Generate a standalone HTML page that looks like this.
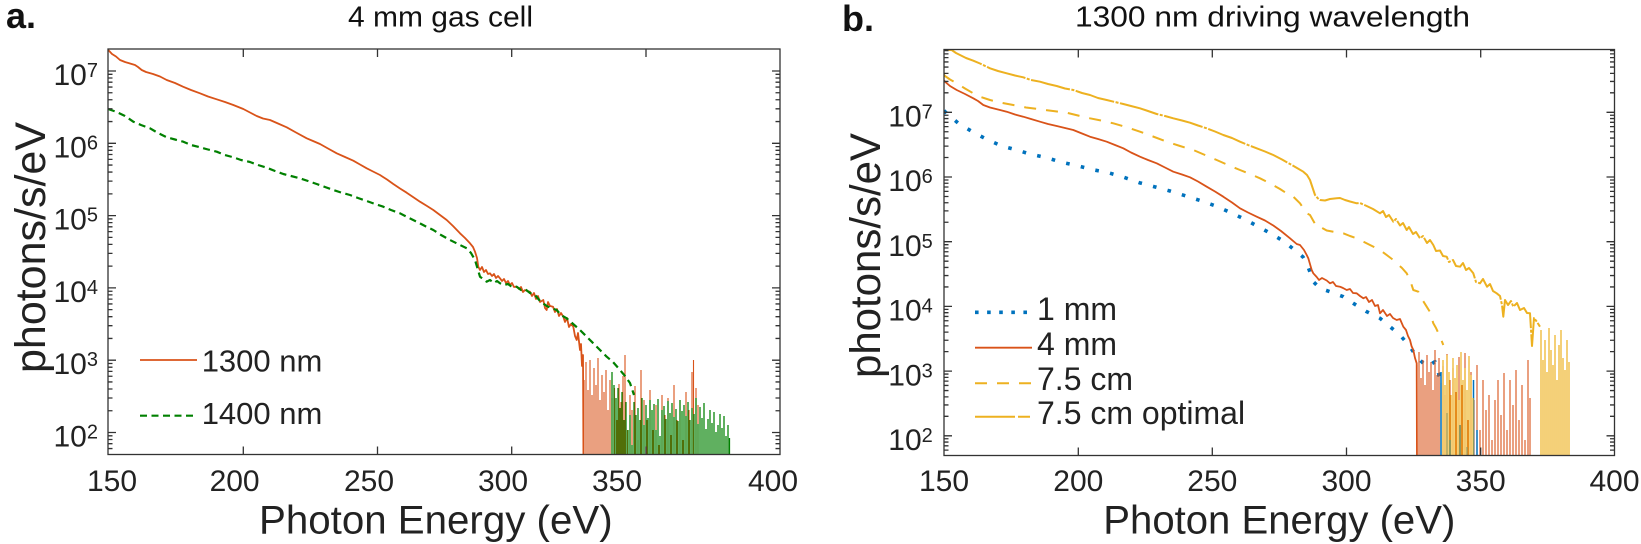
<!DOCTYPE html>
<html>
<head>
<meta charset="utf-8">
<style>
html,body{margin:0;padding:0;background:#fff;}
svg{display:block;}
text{font-family:"Liberation Sans",Arial,sans-serif;fill:#222;}
</style>
</head>
<body>
<svg width="1641" height="544" viewBox="0 0 1641 544" xmlns="http://www.w3.org/2000/svg">
<defs>
<clipPath id="ca"><rect x="108" y="49" width="672" height="405.5"/></clipPath>
<clipPath id="cb"><rect x="944" y="49.5" width="670.5" height="406"/></clipPath>
<path id="tka" fill="none" d="M0,71h8M0,143.3h8M0,215.6h8M0,287.9h8M0,360.2h8M0,432.5h8
M0,448.55h4.5M0,443.71h4.5M0,439.51h4.5M0,435.83h4.5
M0,410.74h4.5M0,398.01h4.5M0,388.97h4.5M0,381.96h4.5M0,376.25h4.5M0,371.41h4.5M0,367.21h4.5M0,363.53h4.5
M0,338.44h4.5M0,325.71h4.5M0,316.67h4.5M0,309.66h4.5M0,303.95h4.5M0,299.11h4.5M0,294.91h4.5M0,291.23h4.5
M0,266.14h4.5M0,253.41h4.5M0,244.37h4.5M0,237.36h4.5M0,231.65h4.5M0,226.81h4.5M0,222.61h4.5M0,218.93h4.5
M0,193.84h4.5M0,181.11h4.5M0,172.07h4.5M0,165.06h4.5M0,159.35h4.5M0,154.51h4.5M0,150.31h4.5M0,146.63h4.5
M0,121.54h4.5M0,108.81h4.5M0,99.77h4.5M0,92.76h4.5M0,87.05h4.5M0,82.21h4.5M0,78.01h4.5M0,74.33h4.5"/>
<path id="tkb" fill="none" d="M0,112.3h8M0,177h8M0,241.7h8M0,306.4h8M0,371.1h8M0,435.8h8
M0,450.16h4.5M0,445.83h4.5M0,442.08h4.5M0,438.78h4.5
M0,416.33h4.5M0,404.94h4.5M0,396.85h4.5M0,390.58h4.5M0,385.46h4.5M0,381.13h4.5M0,377.38h4.5M0,374.08h4.5
M0,351.63h4.5M0,340.24h4.5M0,332.15h4.5M0,325.88h4.5M0,320.76h4.5M0,316.43h4.5M0,312.68h4.5M0,309.38h4.5
M0,286.93h4.5M0,275.54h4.5M0,267.45h4.5M0,261.18h4.5M0,256.06h4.5M0,251.73h4.5M0,247.98h4.5M0,244.68h4.5
M0,222.23h4.5M0,210.84h4.5M0,202.75h4.5M0,196.48h4.5M0,191.36h4.5M0,187.03h4.5M0,183.28h4.5M0,179.98h4.5
M0,157.53h4.5M0,146.14h4.5M0,138.05h4.5M0,131.78h4.5M0,126.66h4.5M0,122.33h4.5M0,118.58h4.5M0,115.28h4.5
M0,92.83h4.5M0,81.44h4.5M0,73.35h4.5M0,67.08h4.5M0,61.96h4.5M0,57.63h4.5M0,53.88h4.5M0,50.58h4.5"/>
</defs>

<!-- ================= PANEL A ================= -->
<text x="6" y="28" font-size="36" font-weight="bold" style="fill:#111">a.</text>
<text x="348" y="26.7" font-size="29" textLength="185" lengthAdjust="spacingAndGlyphs" style="fill:#111">4 mm gas cell</text>

<g clip-path="url(#ca)" fill="none" stroke-linejoin="round">
<polyline stroke="#D95319" stroke-width="1.8" points="108.3,50 112,54 116,56.5 120,60 125,62 130,63.5 135,65 138,67 141.7,70 146,72 153,74 160,76.5 166.7,80 175,83 183,86.7 191,90 200,93.3 208,96.5 216.7,99.3 225,102 233.3,105 243.3,109 250,112.5 256.7,116 263,118.5 270,120 278,123.5 286.7,127.3 296,132.5 306.7,138.3 313,141 320,144 328,148.5 336.7,153.3 345,157 353.3,160.7 360,164.5 366.7,168.3 373,171.5 380,175 387,179.5 393.3,184 400,188.5 406.7,192.7 413,197 420,201.7 427,206 433.3,210 440,215 446.7,220 453,226 460,233.3 465,238 470,243.3 473,247 475,251.7 477,258 478.3,266.7 480,270 482,267 484,272 486,270 488,274 490,273.3 492,276 494,274 496,278 498,276 500,278.3 502,281 504,279 506,283 508,281 510,285 512,283 514,287 516.7,286.7 519,289 521,287 523,292 525,290 527,291 530,291.7 532,296 534,293 536,299 538,296 540,302 543.3,300 545,308 546.7,310 548,302 550,306 553,306.7 555,312 557,309 559,316 561,313 563.3,316.7 565,322 567,318 569,327 571,324 573.3,326.7 575,336 576.7,340 578,333 580,350 581,344 582,366 583,355 583.5,470"/>
<path stroke="#D95319" stroke-width="1.1" d="M584,470V380M586,470V362M588,470V390M590,470V360M592,470V395M594,470V368M596,470V385M598,470V358M600,470V400M602,470V375M604,470V392M606,470V370M608,470V410M610,470V380M612,470V398M614.5,470V388M617,470V420M619,470V384M621,470V402M623,470V376M625,470V355M627.5,470V430M630,470V395M632,470V410M635,470V386M638,470V440M641,470V370M644,470V400M647,470V420M650,470V390M653,470V430M656,470V405M659,470V445M662,470V395M665,470V415M668,470V398M671,470V435M674,470V385M677,470V420M680,470V400M683,470V440M686,470V392M689,470V410M692,470V372M693.5,470V360M696,470V388M698,470V405"/>
<polyline stroke="#008000" stroke-width="2.2" stroke-dasharray="7 4.5" points="108,109 116,111.7 125,116 133.3,121.7 141,125 150,128.3 158,133 166.7,137.3 175,139.5 183.3,141.7 191,145 200,147.3 208,149.5 216.7,151.7 225,155 233.3,157.3 241,160 250,162 258,165 266.7,167.7 275,171 283.3,174 291,176 300,178.3 308,181 316.7,184 325,187 333.3,190 341,192.5 350,195 358,198 366.7,201 375,204 383.3,206.7 391,210 400,213.3 408,217.5 416.7,221.7 425,226 433.3,230 441,235 450,240 458,244 466.7,248.3 471,253 475,260 478,270 480,276.7 483,279 486.7,281.7 490,280 494,283 497,281 500,283.3 504,285 508,284 512,287 516.7,286.7 521,290 525,289 530,293 535,295 540,301 546.7,306 551,308 556.7,310 561,315 566.7,318.3 572,323 580,330 586,336 593.3,343.3 600,350 606.7,356.7 613,362 620,370 625,376 630,383 634,395"/>
<path stroke="#008000" stroke-width="1.25" d="M612,470V372M614,470V385M616,470V398M618,470V388M620,470V408M622,470V392M624,470V420M626,470V402M628,470V430M630,470V415M632,470V445M634,470V402M636,470V415M638,470V408M640,470V420M642,470V398M644,470V425M646,470V405M648,470V418M650,470V400M652,470V410M654,470V404M656,470V430M658,470V399M660,470V436M662,470V410M664,470V406M666,470V419M668,470V401M670,470V413M672,470V403M674,470V417M676,470V409M678,470V421M680,470V400M682,470V411M684,470V405M686,470V416M688,470V402M690,470V420M692,470V408M694,470V414M696,470V398M698,470V424M700,470V407M702,470V418M704,470V403M706,470V429M708,470V419M710,470V410M712,470V423M714,470V412M716,470V432M718,470V425M720,470V414M722,470V428M724,470V416M726,470V436M728,470V425M729.5,470V438"/>
</g>

<g stroke="#333" stroke-width="1.3" fill="none">
<rect x="108" y="49" width="672" height="405.5"/>
<path d="M243.3,454.5v-8M377.5,454.5v-8M511.7,454.5v-8M646,454.5v-8M243.3,49v8M377.5,49v8M511.7,49v8M646,49v8"/>
<use href="#tka" x="108"/>
<use href="#tka" transform="translate(780,0) scale(-1,1)"/>
</g>
<g font-size="30">
<text x="112" y="491" text-anchor="middle">150</text>
<text x="234.6" y="491" text-anchor="middle">200</text>
<text x="369" y="491" text-anchor="middle">250</text>
<text x="503" y="491" text-anchor="middle">300</text>
<text x="617" y="491" text-anchor="middle">350</text>
<text x="773" y="491" text-anchor="middle">400</text>
<text x="53.5" y="85">10<tspan font-size="20" dy="-8">7</tspan></text>
<text x="53.5" y="157.3">10<tspan font-size="20" dy="-8">6</tspan></text>
<text x="53.5" y="229.6">10<tspan font-size="20" dy="-8">5</tspan></text>
<text x="53.5" y="301.9">10<tspan font-size="20" dy="-8">4</tspan></text>
<text x="53.5" y="374.2">10<tspan font-size="20" dy="-8">3</tspan></text>
<text x="53.5" y="446.5">10<tspan font-size="20" dy="-8">2</tspan></text>
</g>
<text x="259" y="533.3" font-size="40" textLength="353.6" lengthAdjust="spacingAndGlyphs">Photon Energy (eV)</text>
<text transform="translate(45,373) rotate(-90)" font-size="43" textLength="251" lengthAdjust="spacingAndGlyphs">photons/s/eV</text>

<path d="M140,360H197" stroke="#D95319" stroke-width="1.8"/>
<path d="M140,415.7H197" stroke="#008000" stroke-width="2.2" stroke-dasharray="7 4.5"/>
<text x="201.7" y="371.7" font-size="31">1300 nm</text>
<text x="201.7" y="424" font-size="31">1400 nm</text>

<!-- ================= PANEL B ================= -->
<text x="842" y="31" font-size="36" font-weight="bold" style="fill:#111">b.</text>
<text x="1075" y="26.7" font-size="29" textLength="395" lengthAdjust="spacingAndGlyphs" style="fill:#111">1300 nm driving wavelength</text>

<g clip-path="url(#cb)" fill="none" stroke-linejoin="round">
<polyline stroke="#0072BD" stroke-width="3.6" stroke-dasharray="3.6 11.4" points="944,110.5 945,111.7 958.3,123.3 972.3,131.7 986.7,139.3 1001.7,146 1016.7,150 1030.7,154.3 1046.7,157.7 1061.7,162.3 1077.3,165.7 1092.7,169.7 1108.3,172.7 1124,177.3 1139.3,182.7 1154.3,186.7 1170,191 1185,195.7 1200.7,200.7 1215.7,206 1230,212.3 1245,219.3 1258.3,226.7 1271.7,234 1284.3,241.7 1296.7,251.7 1303,257 1306.7,263.3 1310,272 1313.3,281.7 1320,288.3 1330,291.7 1343.3,296.7 1353.3,303.3 1366.7,311.7 1380,318.3 1390,326.7 1400,335 1410,346.7 1416.7,356.7 1426.7,366.7 1435,361.7 1440,378"/>
<polyline stroke="#D95319" stroke-width="1.8" points="944,80.5 945,81.7 950,86 956.7,90 965,94 973.3,98.3 978,101 983.3,105 990,107.5 1000,110 1006.7,111.7 1015,114.5 1023.3,116.7 1031,119 1040,121.7 1048,124 1056.7,126 1065,128 1073.3,130 1082,133.5 1090,136.7 1098,139 1106.7,141.7 1115,145 1123.3,148.3 1131,152.5 1140,156.7 1148,160 1156.7,163.3 1165,167.5 1173.3,171.7 1182,174.5 1190,177.3 1198,181.5 1206.7,186.7 1215,191.5 1223.3,196.7 1232,202.5 1240,208.3 1248,212.5 1256.7,216.7 1265,220.5 1273.3,225.5 1281,231 1290,238.3 1296.7,244 1300,245 1304,250 1306.7,255 1308.3,258.3 1311.7,270 1313.3,273.3 1316.7,277 1319,280 1322,278 1326.7,280.5 1330,283.3 1333,282 1336,286 1340,286.7 1343,288 1346.7,290 1350,289 1353,293 1356.7,293.3 1360,296 1363.3,298.3 1366,297 1369,302 1372,300 1375,306 1378,305 1380,313.3 1383,310 1387,316 1390,314 1393,318 1396.7,320 1400,319 1403.3,326.7 1406,330 1408,336 1410,340 1411.5,346 1413.3,350 1415,358 1416.7,363.3 1417,470"/>
<path stroke="#D95319" stroke-width="1.1" d="M1417,470V365M1419,470V352M1421,470V378M1423,470V360M1425,470V385M1427,470V355M1429,470V372M1431,470V362M1433,470V390M1435,470V350M1437,470V375M1439,470V358M1441,470V383M1443,470V366M1445,470V395M1447,470V354M1450,470V380M1453,470V368M1456,470V392M1459,470V357M1462,470V385M1465,470V353M1468,470V420M1471,470V372M1474,470V400M1477,470V365M1480,470V430M1483,470V380M1486,470V410M1489,470V395M1492,470V440M1495,470V400M1498,470V380M1501,470V415M1504,470V373M1507,470V430M1510,470V380M1513,470V405M1516,470V370M1519,470V420M1522,470V385M1525,470V440M1528,470V360M1530,470V398"/>
<path stroke="#0072BD" stroke-width="1.5" d="M1441,470V372M1447,470V413M1450,470V440M1460,470V425M1467,470V447M1473.5,470V380M1477,470V430"/>
<polyline stroke="#EDB120" stroke-width="2" stroke-dasharray="12 10" points="944,74.5 945,76 950,79.5 956.7,83.3 965,88.5 973.3,93.3 981,97 990,100 1000,102.5 1013.3,105 1026,107.5 1040,109.3 1053,111 1066.7,112.7 1078,115.5 1090,118.3 1101,120.5 1113.3,123.3 1126,127 1140,131.7 1153,136.5 1166.7,141.7 1180,146 1193.3,150 1205,155 1216.7,160 1228,165 1240,170 1250,174 1260,178.3 1270,183.3 1280,189 1286.7,193.3 1293.3,196.7 1300,203.3 1306.7,213.3 1310,215 1316.7,226.7 1320,226.7 1326.7,230.5 1335,232 1343.3,233.3 1350,236 1356.7,238.3 1360,240 1370,245 1380,250 1388,256 1393.3,260 1396.7,263.3 1402,268 1406.7,273.3 1410,280 1413.3,290 1418.3,291.7 1420,296 1426.7,306.7 1430,312 1433.3,323.3 1436,328 1440,336.7 1443.3,345"/>
<path stroke="#EDB120" stroke-width="1.2" d="M1443,470V360M1445,470V385M1447,470V355M1449,470V372M1451,470V395M1453,470V358M1455,470V378M1457,470V365M1459,470V400M1461,470V352M1463,470V380M1465,470V368M1467,470V390M1469,470V356M1471,470V375M1473,470V398"/>
<polyline stroke="#EDB120" stroke-width="2" stroke-dasharray="40 1.5 3 1.5" points="945,50 951.7,50 956,53 960,55 966,58 973.3,60.7 980,63.5 990,68.3 998,71 1006.7,73.3 1015,75.5 1023.3,77.3 1031,80 1040,81.7 1048,84 1056.7,86 1065,88.5 1073.3,90 1082,93 1090,95 1098,98 1106.7,100 1115,102 1123.3,104 1131,106 1140,108.3 1148,111 1156.7,114 1165,116 1173.3,118.3 1182,120.5 1190,122.7 1198,125.5 1206.7,128.3 1215,131.5 1223.3,135 1232,138 1240,141.7 1248,145 1256.7,148.3 1265,151.5 1273.3,155 1282,159.5 1290,164 1297,168 1303.3,171.7 1307,175 1310,180 1313,189 1315,195 1318,198.5 1320,200 1325,200.5 1330,199 1336.7,198.3 1340,198 1345,200 1350,201.5 1356.7,203.3 1360,203 1366.7,206 1373,209 1380,213.3 1383,211 1386,217 1389,215 1393.3,221.7 1396,219 1400,225.5 1403,223 1406.7,230 1409,227 1413,234 1416,232 1420,238.3 1423,236 1427,243 1430,240 1433.3,245 1436,251 1440,250.5 1443,256 1446.7,256.7 1449,262 1453,260 1456,266 1460,266.7 1463,263 1466,270 1469,268 1473.3,273.3 1476,282 1480,283.3 1483,279 1487,286.7 1490,284 1493,291 1496.7,293.3 1500,296 1502,305 1503.3,316.7 1505,300 1508,305 1511,301 1513.3,306.7 1517,303 1520,310 1524,308 1527,313 1530,313.3 1532,346 1534,318 1537,322 1540,326.7"/>
<path stroke="#EDB120" stroke-width="1.2" d="M1541,470V330M1543,470V360M1545,470V340M1547,470V372M1549,470V328M1551,470V350M1553,470V365M1555,470V335M1557,470V380M1559,470V345M1561,470V330M1563,470V358M1565,470V370M1567,470V340M1569,470V362"/>
</g>

<g stroke="#333" stroke-width="1.3" fill="none">
<rect x="944" y="49.5" width="670.5" height="406"/>
<path d="M1078.3,455.5v-8M1212.3,455.5v-8M1346.5,455.5v-8M1480.7,455.5v-8M1078.3,49.5v8M1212.3,49.5v8M1346.5,49.5v8M1480.7,49.5v8"/>
<use href="#tkb" x="944"/>
<use href="#tkb" transform="translate(1614.5,0) scale(-1,1)"/>
</g>
<g font-size="30">
<text x="944" y="491" text-anchor="middle">150</text>
<text x="1078.3" y="491" text-anchor="middle">200</text>
<text x="1212.3" y="491" text-anchor="middle">250</text>
<text x="1346.5" y="491" text-anchor="middle">300</text>
<text x="1480.7" y="491" text-anchor="middle">350</text>
<text x="1614.5" y="491" text-anchor="middle">400</text>
<text x="888.3" y="126.5">10<tspan font-size="20" dy="-8">7</tspan></text>
<text x="888.3" y="191.2">10<tspan font-size="20" dy="-8">6</tspan></text>
<text x="888.3" y="255.9">10<tspan font-size="20" dy="-8">5</tspan></text>
<text x="888.3" y="320.6">10<tspan font-size="20" dy="-8">4</tspan></text>
<text x="888.3" y="385.3">10<tspan font-size="20" dy="-8">3</tspan></text>
<text x="888.3" y="450">10<tspan font-size="20" dy="-8">2</tspan></text>
</g>
<text x="1103.3" y="533.3" font-size="40" textLength="352" lengthAdjust="spacingAndGlyphs">Photon Energy (eV)</text>
<text transform="translate(880,378) rotate(-90)" font-size="43" textLength="245" lengthAdjust="spacingAndGlyphs">photons/s/eV</text>

<path d="M975,312.3H1032" stroke="#0072BD" stroke-width="3.6" stroke-dasharray="3.6 8.5"/>
<path d="M975,347.7H1032" stroke="#D95319" stroke-width="1.8"/>
<path d="M975,383.3H1032" stroke="#EDB120" stroke-width="2" stroke-dasharray="12 10"/>
<path d="M975,416.7H1032" stroke="#EDB120" stroke-width="2" stroke-dasharray="40 3 12 3"/>
<g font-size="32">
<text x="1037" y="320">1 mm</text>
<text x="1037" y="355">4 mm</text>
<text x="1037" y="390">7.5 cm</text>
<text x="1037" y="424">7.5 cm optimal</text>
</g>
</svg>
</body>
</html>
